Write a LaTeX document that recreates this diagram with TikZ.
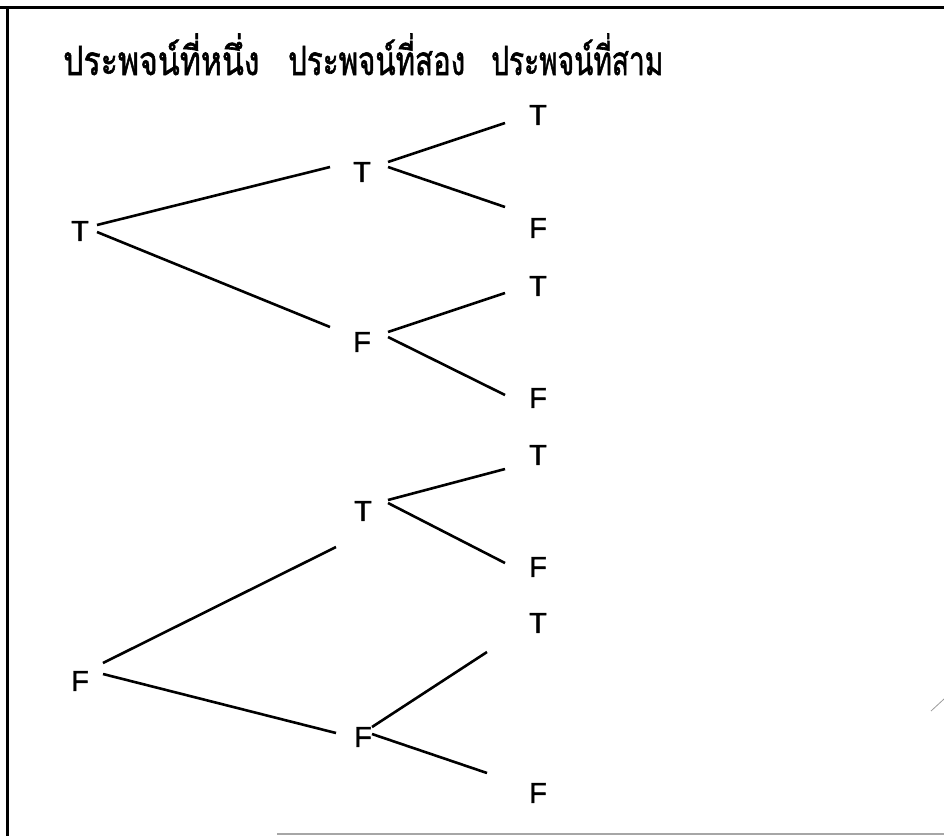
\documentclass[tikz,border=0pt]{standalone}
\usepackage{fontspec}
\setmainfont{Liberation Sans}
\newfontfamily\tffont[FakeBold=1.4]{Liberation Sans}
\newfontfamily\thaifont[Script=Thai,FakeBold=1.5]{Loma}
\newcommand{\headtext}[2]{\scalebox{#1}[1.12]{#2}}
\begin{document}
\begin{tikzpicture}[x=1pt,y=-1pt,
  tf/.style={font=\tffont\fontsize{29}{29}\selectfont, inner sep=0pt},
  head/.style={font=\thaifont\fontsize{36}{36}\selectfont, inner sep=0pt, anchor=base west},
  branch/.style={line width=2.6pt},
  frame/.style={line width=3pt}]
\useasboundingbox (0,0) rectangle (944,836);
% frame
\draw[frame] (0,7) -- (944,7);
\draw[frame] (7,7) -- (7,836);
\draw[line width=1.5pt, black!35] (277,834) -- (944,834);
\draw[line width=0.8pt, black!40] (931,711) -- (944,699);
% column headings
\node[head] (h1) at (63,75) {\headtext{0.89}{ประพจน์ที่หนึ่ง}};
\node[head] (h2) at (288,75) {\headtext{0.82}{ประพจน์ที่สอง}};
\node[head] (h3) at (491,75) {\headtext{0.78}{ประพจน์ที่สาม}};
% first proposition
\node[tf] (a) at (80,231) {T};
\node[tf] (b) at (80,681) {F};
% second proposition
\node[tf] (aa) at (362,172) {T};
\node[tf] (ab) at (362,342) {F};
\node[tf] (ba) at (363,511) {T};
\node[tf] (bb) at (363,737) {F};
% third proposition
\node[tf] (aaa) at (538,115) {T};
\node[tf] (aab) at (538,228) {F};
\node[tf] (aba) at (538,286) {T};
\node[tf] (abb) at (538,398) {F};
\node[tf] (baa) at (538,455) {T};
\node[tf] (bab) at (538,567) {F};
\node[tf] (bba) at (538,623) {T};
\node[tf] (bbb) at (538,793) {F};
% branches
\draw[branch] ([shift={(17,-6)}]a.center) -- ([shift={(-32,-5)}]aa.center);
\draw[branch] ([shift={(17,1)}]a.center) -- ([shift={(-32,-15)}]ab.center);
\draw[branch] ([shift={(23,-18)}]b.center) -- ([shift={(-27,36)}]ba.center);
\draw[branch] ([shift={(23,-7)}]b.center) -- ([shift={(-27,-4)}]bb.center);
\draw[branch] ([shift={(26,-10)}]aa.center) -- ([shift={(-33,8)}]aaa.center);
\draw[branch] ([shift={(26,-5)}]aa.center) -- ([shift={(-33,-21)}]aab.center);
\draw[branch] ([shift={(26,-10)}]ab.center) -- ([shift={(-33,7)}]aba.center);
\draw[branch] ([shift={(26,-5)}]ab.center) -- ([shift={(-33,-3)}]abb.center);
\draw[branch] ([shift={(25,-11)}]ba.center) -- ([shift={(-33,14)}]baa.center);
\draw[branch] ([shift={(25,-8)}]ba.center) -- ([shift={(-33,-4)}]bab.center);
\draw[branch] ([shift={(9,-10)}]bb.center) -- ([shift={(-51,29)}]bba.center);
\draw[branch] ([shift={(9,-3)}]bb.center) -- ([shift={(-51,-20)}]bbb.center);
\end{tikzpicture}
\end{document}
